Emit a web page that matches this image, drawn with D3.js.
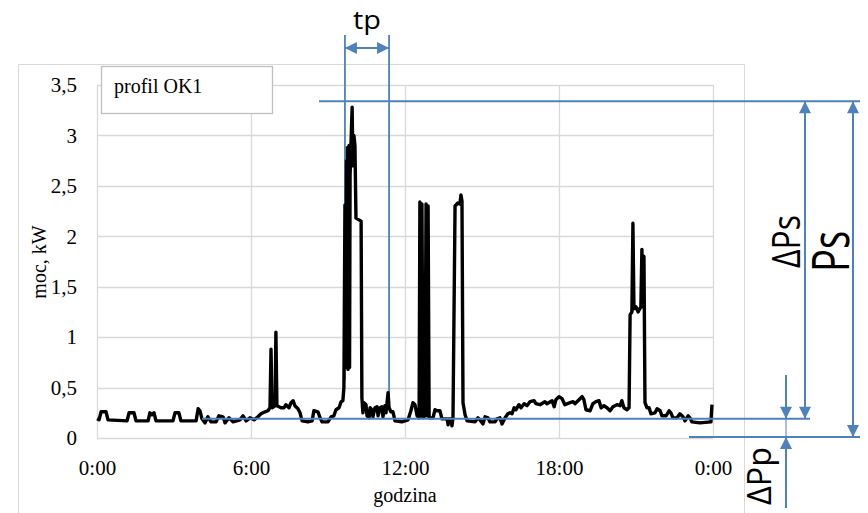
<!DOCTYPE html>
<html>
<head>
<meta charset="utf-8">
<script src="https://cdn.jsdelivr.net/npm/d3@7"></script>
<style>
  body { margin: 0; background: #fff; }
  svg text { font-family: "Liberation Serif", "Times New Roman", serif; }
  svg text.ann { font-family: "Open Sans", "Noto Sans", sans-serif; }
</style>
</head>
<body>
<svg id="chart" width="868" height="513"></svg>
<script>
// time of day in hours
var hours = [
  0, 0.08, 0.16, 0.35, 0.43, 1.17, 1.25, 1.44, 1.52, 1.99, 2.06, 2.14, 2.22, 2.30,
  2.96, 3.04, 3.19, 3.27, 3.86, 3.94, 4.01, 4.09, 4.21, 4.32, 4.44, 4.64, 4.75, 4.91,
  4.99, 5.14, 5.30, 5.57, 5.69, 5.81, 5.96, 6.12, 6.27, 6.39, 6.55, 6.66, 6.74, 6.78,
  6.82, 6.94, 6.97, 7.01, 7.17, 7.29, 7.36, 7.48, 7.56, 7.64, 7.71, 7.83, 7.91, 7.99,
  8.22, 8.38, 8.45, 8.61, 8.69, 8.77, 9.00, 9.12, 9.23, 9.31, 9.43, 9.51, 9.58, 9.62,
  9.66, 9.68, 9.72, 9.74, 9.76, 9.78, 9.82, 9.84, 9.86, 9.90, 9.94, 9.97, 10.01, 10.05,
  10.09, 10.29, 10.32, 10.36, 10.40, 10.48, 10.52, 10.60, 10.64, 10.71, 10.75, 10.83,
  10.91, 10.95, 11.03, 11.10, 11.14, 11.22, 11.26, 11.34, 11.38, 11.45, 11.53, 11.61,
  11.88, 12.12, 12.23, 12.31, 12.39, 12.47, 12.55, 12.58, 12.62, 12.66, 12.70, 12.78,
  12.82, 12.86, 12.90, 12.94, 13.09, 13.17, 13.25, 13.36, 13.44, 13.64, 13.68, 13.71,
  13.79, 13.83, 13.87, 13.95, 14.06, 14.14, 14.18, 14.22, 14.26, 14.34, 14.42, 14.73,
  14.84, 14.92, 15.04, 15.12, 15.23, 15.31, 15.51, 15.58, 15.70, 15.78, 15.90, 16.01,
  16.09, 16.17, 16.25, 16.32, 16.44, 16.52, 16.64, 16.75, 16.87, 17.03, 17.10, 17.26,
  17.45, 17.53, 17.73, 17.81, 17.88, 18.00, 18.12, 18.23, 18.43, 18.55, 18.62, 18.78,
  18.90, 18.97, 19.05, 19.21, 19.32, 19.44, 19.56, 19.64, 19.75, 19.87, 19.99, 20.10,
  20.26, 20.38, 20.45, 20.53, 20.65, 20.73, 20.77, 20.84, 20.88, 20.92, 21.00, 21.08,
  21.19, 21.23, 21.27, 21.31, 21.35, 21.43, 21.51, 21.58, 21.74, 21.82, 21.94, 22.01,
  22.17, 22.29, 22.36, 22.44, 22.60, 22.71, 22.83, 22.91, 23.03, 23.10, 23.18, 23.49,
  23.92, 23.96
];
// power, kW
var power = [
  0.19, 0.18, 0.26, 0.26, 0.18, 0.17, 0.25, 0.25, 0.17, 0.17, 0.25, 0.23, 0.25, 0.17,
  0.17, 0.25, 0.25, 0.17, 0.17, 0.29, 0.27, 0.19, 0.15, 0.21, 0.16, 0.16, 0.22, 0.21,
  0.15, 0.20, 0.16, 0.18, 0.22, 0.17, 0.20, 0.18, 0.21, 0.24, 0.26, 0.27, 0.30, 0.88,
  0.30, 0.32, 1.05, 0.32, 0.30, 0.30, 0.33, 0.30, 0.35, 0.37, 0.32, 0.29, 0.25, 0.17,
  0.16, 0.17, 0.27, 0.26, 0.20, 0.16, 0.16, 0.21, 0.22, 0.28, 0.30, 0.36, 0.37, 0.50,
  2.31, 0.70, 2.75, 0.70, 2.88, 0.68, 2.90, 0.70, 2.60, 2.95, 3.28, 2.70, 3.00, 2.90,
  2.18, 2.15, 0.40, 0.25, 0.35, 0.33, 0.22, 0.20, 0.30, 0.28, 0.21, 0.30,
  0.31, 0.22, 0.30, 0.31, 0.21, 0.32, 0.25, 0.45, 0.30, 0.26, 0.26, 0.17,
  0.16, 0.18, 0.27, 0.35, 0.33, 0.22, 0.20, 2.34, 0.22, 2.32, 0.20, 0.22,
  2.32, 0.22, 2.30, 0.20, 0.20, 0.28, 0.27, 0.27, 0.19, 0.19, 0.13, 0.19,
  0.19, 0.12, 0.20, 2.30, 2.33, 2.32, 2.41, 2.35, 0.35, 0.23, 0.17, 0.16,
  0.20, 0.18, 0.14, 0.21, 0.20, 0.16, 0.16, 0.19, 0.20, 0.14, 0.20, 0.24,
  0.25, 0.24, 0.30, 0.28, 0.33, 0.30, 0.34, 0.32, 0.36, 0.37, 0.34, 0.33,
  0.36, 0.34, 0.37, 0.31, 0.38, 0.41, 0.39, 0.33, 0.35, 0.36, 0.34, 0.38,
  0.41, 0.38, 0.28, 0.27, 0.34, 0.36, 0.37, 0.30, 0.32, 0.30, 0.27, 0.31,
  0.33, 0.32, 0.37, 0.30, 0.28, 0.30, 1.22, 1.25, 2.13, 1.28, 1.30, 1.25,
  1.30, 1.87, 1.30, 1.80, 0.35, 0.30, 0.30, 0.24, 0.25, 0.29, 0.27, 0.22,
  0.22, 0.27, 0.25, 0.20, 0.20, 0.24, 0.21, 0.17, 0.22, 0.20, 0.16, 0.15,
  0.16, 0.33
];

var xTicks = [0, 6, 12, 18, 24];
var xTickLabels = ["0:00", "6:00", "12:00", "18:00", "0:00"];
var yTicks = [0, 0.5, 1, 1.5, 2, 2.5, 3, 3.5];
var yTickLabels = ["0", "0,5", "1", "1,5", "2", "2,5", "3", "3,5"];

// annotation levels (kW) and tp interval (h)
var levelTop = 3.34;
var levelBase = 0.19;
var levelZero = 0;
var tpInterval = [9.66, 11.38];

var svg = d3.select("#chart");
var blue = "#4f81bd";
var grid = "#d9d9d9";

var x = d3.scaleLinear().domain([0, 24]).range([97, 713]);
var y = d3.scaleLinear().domain([0, 3.5]).range([438, 85]);

// outer chart frame
svg.append("path")
  .attr("d", "M18.5,520 V64.5 H744.5 V520")
  .attr("fill", "none").attr("stroke", grid).attr("stroke-width", 1);

// gridlines
svg.append("g").selectAll("line").data(yTicks).join("line")
  .attr("x1", x(0)).attr("x2", x(24))
  .attr("y1", function(d) { return Math.round(y(d)) + 0.5; })
  .attr("y2", function(d) { return Math.round(y(d)) + 0.5; })
  .attr("stroke", grid).attr("stroke-width", 1.3);
svg.append("g").selectAll("line").data(xTicks).join("line")
  .attr("x1", function(d) { return Math.round(x(d)) + 0.5; })
  .attr("x2", function(d) { return Math.round(x(d)) + 0.5; })
  .attr("y1", y(0)).attr("y2", y(3.5))
  .attr("stroke", grid).attr("stroke-width", 1.3);

// axes
var yAxis = svg.append("g")
  .attr("transform", "translate(" + x(0) + ",0)")
  .call(d3.axisLeft(y).tickValues(yTicks).tickSize(0).tickPadding(20)
    .tickFormat(function(d, i) { return yTickLabels[i]; }));
var xAxis = svg.append("g")
  .attr("transform", "translate(0," + y(0) + ")")
  .call(d3.axisBottom(x).tickValues(xTicks).tickSize(0).tickPadding(22)
    .tickFormat(function(d, i) { return xTickLabels[i]; }));
[yAxis, xAxis].forEach(function(a) {
  a.select(".domain").remove();
  a.selectAll("text").attr("font-size", 21).attr("fill", "#000");
});

svg.append("text").attr("x", x(12)).attr("y", 502)
  .attr("text-anchor", "middle").attr("font-size", 20).text("godzina");
svg.append("text").attr("transform", "translate(46,262) rotate(-90)")
  .attr("text-anchor", "middle").attr("font-size", 20).text("moc, kW");

// legend
svg.append("rect").attr("x", 101.5).attr("y", 66.5).attr("width", 171).attr("height", 47)
  .attr("fill", "#fff").attr("stroke", "#bfbfbf").attr("stroke-width", 1.3);
svg.append("text").attr("x", 114).attr("y", 93).attr("font-size", 20).text("profil OK1");

// markers
var defs = svg.append("defs");
defs.append("marker").attr("id", "arr").attr("viewBox", "0 0 10 10")
  .attr("refX", 10).attr("refY", 5).attr("markerWidth", 6.5).attr("markerHeight", 6)
  .attr("markerUnits", "strokeWidth").attr("orient", "auto-start-reverse")
  .append("path").attr("d", "M0,0 L10,5 L0,10 Z").attr("fill", blue);

// tp verticals (under the data line)
tpInterval.forEach(function(t, i) {
  svg.append("line").attr("x1", x(t)).attr("x2", x(t))
    .attr("y1", 35).attr("y2", i === 0 ? 380 : 405)
    .attr("stroke", blue).attr("stroke-width", 1.8);
});

// data line
var pts = hours.map(function(h, i) { return { h: h, v: power[i] }; });
svg.append("path").datum(pts)
  .attr("fill", "none").attr("stroke", "#000").attr("stroke-width", 3.4)
  .attr("stroke-linejoin", "round")
  .attr("d", d3.line().x(function(d) { return x(d.h); }).y(function(d) { return y(d.v); }));

// level lines
svg.append("line").attr("x1", 319).attr("x2", 860)
  .attr("y1", y(levelTop)).attr("y2", y(levelTop)).attr("stroke", blue).attr("stroke-width", 2);
svg.append("line").attr("x1", 202).attr("x2", 810)
  .attr("y1", y(levelBase)).attr("y2", y(levelBase)).attr("stroke", blue).attr("stroke-width", 2);
svg.append("line").attr("x1", 689).attr("x2", 860)
  .attr("y1", y(levelZero) - 1).attr("y2", y(levelZero) - 1).attr("stroke", blue).attr("stroke-width", 2);

// tp double arrow
svg.append("line").attr("x1", x(tpInterval[0])).attr("x2", x(tpInterval[1]))
  .attr("y1", 48).attr("y2", 48).attr("stroke", blue).attr("stroke-width", 2)
  .attr("marker-start", "url(#arr)").attr("marker-end", "url(#arr)");
svg.append("text").attr("class", "ann")
  .attr("x", (x(tpInterval[0]) + x(tpInterval[1])) / 2).attr("y", 29)
  .attr("text-anchor", "middle").attr("font-size", 26)
  .attr("textLength", 28).attr("lengthAdjust", "spacingAndGlyphs")
  .text("tp");

// ΔPs and Ps double arrows
svg.append("line").attr("x1", 805).attr("x2", 805)
  .attr("y1", y(levelTop)).attr("y2", y(levelBase))
  .attr("stroke", blue).attr("stroke-width", 2)
  .attr("marker-start", "url(#arr)").attr("marker-end", "url(#arr)");
svg.append("line").attr("x1", 853).attr("x2", 853)
  .attr("y1", y(levelTop)).attr("y2", y(levelZero) - 1)
  .attr("stroke", blue).attr("stroke-width", 2)
  .attr("marker-start", "url(#arr)").attr("marker-end", "url(#arr)");

// ΔPp arrows
svg.append("line").attr("x1", 786).attr("x2", 786)
  .attr("y1", 375).attr("y2", y(levelBase))
  .attr("stroke", blue).attr("stroke-width", 2).attr("marker-end", "url(#arr)");
svg.append("line").attr("x1", 786).attr("x2", 786)
  .attr("y1", y(levelBase)).attr("y2", y(levelZero))
  .attr("stroke", blue).attr("stroke-width", 1);
svg.append("line").attr("x1", 786).attr("x2", 786)
  .attr("y1", 508).attr("y2", y(levelZero) - 1)
  .attr("stroke", blue).attr("stroke-width", 2).attr("marker-end", "url(#arr)");

// rotated labels
function vlabel(txt, bx, sy, size, len) {
  svg.append("text").attr("class", "ann")
    .attr("transform", "translate(" + bx + "," + sy + ") rotate(-90)")
    .attr("font-size", size)
    .attr("textLength", len).attr("lengthAdjust", "spacingAndGlyphs")
    .attr("fill", "#000").text(txt);
}
vlabel("ΔPs", 800, 268, 38, 53);
vlabel("Ps", 849, 272, 51, 41);
vlabel("ΔPp", 771, 505, 33, 58);
</script>
</body>
</html>
